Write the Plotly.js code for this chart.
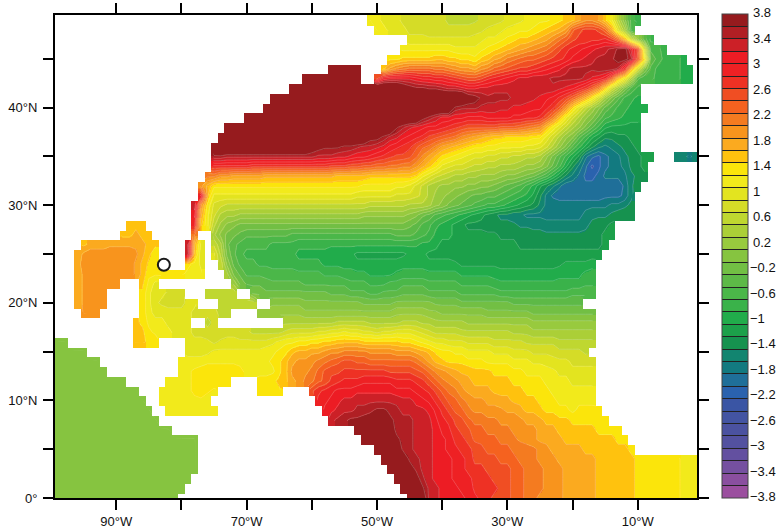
<!DOCTYPE html>
<html><head><meta charset="utf-8">
<script src="https://cdn.plot.ly/plotly-3.0.1.min.js"></script>
<style>html,body{margin:0;padding:0;background:#fff}#c{width:780px;height:531px}</style></head>
<body><div id="c"></div>
<script>
// values in tenths, each row: start longitude, values eastward (one per degree), repeated per segment
const lat49=[-51,[11,10,9,8,8,7,7,7,6,6,6,6,5,5,5,5,5,6,6,7,7,8,9,9,10,10,11,11,12,13,14,15,17,19,19,17,14,10,4,-2,-7,-10]];
const lat48=[-50,[11,10,9,8,8,7,7,7,6,6,6,6,6,6,6,7,7,8,8,9,10,10,11,11,12,13,14,15,16,18,23,25,26,26,25,22,16,8,2,-7]];
const lat47=[-45,[8,8,8,8,8,8,8,8,8,8,8,9,10,10,11,12,13,14,14,15,16,17,19,21,23,25,26,26,27,27,28,26,22,15,7,0,-5,-9]];
const lat46=[-46,[11,11,11,11,11,11,11,11,10,10,10,10,11,12,13,14,15,16,17,18,19,20,21,23,25,27,28,29,30,31,32,33,34,36,37,31,24,8,-7,-8,-9]];
const lat45=[-48,[13,13,14,14,14,14,14,15,15,14,14,13,13,12,14,15,17,18,20,21,22,23,23,24,25,26,27,28,30,31,32,33,34,34,35,37,37,34,22,12,-5,-7,-9,-10,-10,-11]];
const lat44=[-57,[42,42,42,42,42],-49,[15,18,20,21,22,22,22,22,21,21,20,19,18,18,17,19,20,22,23,24,25,26,26,27,28,29,30,31,33,34,34,34,34,35,35,35,33,26,15,6,-2,-7,-9,-10,-10,-10,-11,-11]];
const lat43=[-61,[42,42,42,42,42,42,42,42,42],-50,[25,30,31,31,31,31,30,29,29,28,28,27,26,25,24,24,25,27,28,29,30,31,32,32,33,33,33,34,34,34,34,34,33,31,30,28,22,15,10,3,-6,-8,-8,-9,-10,-10,-10,-11,-11]];
const lat42=[-63,[42,42,42,42,42,42,42,42,42,42,42,42,42,42,42,42,42,39,37,36,36,35,35,34,33,33,32,31,31,32,32,33,33,33,33,33,33,33,33,33,33,32,31,30,28,26,23,19,13,6,2,-3,-7,-9]];
const lat41=[-66,[42,42,42,42,42,42,42,42,42,42,42,42,42,42,42,42,42,42,42,42,42,42,42,42,42,42,42,42,42,42,38,37,35,34,34,34,34,33,33,32,32,31,30,29,27,25,22,19,15,11,6,1,-3,-6,-9,-10,-11]];
const lat40=[-67,[42,42,42,42,42,42,42,42,42,42,42,42,42,42,42,42,42,42,42,42,42,42,42,42,42,42,42,42,42,35,34,34,34,33,33,33,32,32,31,31,31,30,30,28,26,23,18,12,8,4,1,-2,-5,-7,-9,-10,-11,-12,-12]];
const lat39=[-70,[42,42,42,42,42,42,42,42,42,42,42,42,42,42,42,42,42,42,42,42,42,42,42,42,42,42,42,37,35,33,31,31,30,30,29,29,29,30,30,30,30,29,29,28,28,27,24,20,15,10,6,3,0,-2,-5,-8,-9,-10,-11,-12,-12]];
const lat38=[-73,[42,42,42,42,42,42,42,42,42,42,42,42,42,42,42,42,42,42,42,42,42,42,42,42,42,42,36,34,32,31,30,29,29,28,27,26,25,24,24,24,24,24,23,23,23,22,21,20,19,15,11,8,5,2,0,-3,-6,-9,-12,-13,-13,-13,-13,-13]];
const lat37=[-74,[42,42,42,42,42,42,42,42,42,42,42,42,42,42,42,42,42,42,42,42,42,42,42,37,37,35,33,32,30,29,28,27,25,24,23,22,21,19,18,17,16,15,14,14,13,13,13,13,12,12,9,6,3,0,-2,-6,-9,-12,-14,-16,-16,-15,-15,-14,-14]];
const lat36=[-75,[40,42,42,42,42,42,42,42,42,42,42,42,42,42,42,38,37,36,36,36,35,35,34,33,33,32,31,29,28,27,26,24,22,21,19,17,16,15,14,13,12,12,11,11,10,10,10,10,9,9,8,6,3,0,-3,-7,-10,-13,-16,-18,-19,-18,-17,-16,-15,-14]];
const lat35=[-75,[35,35,34,34,34,34,34,34,34,34,34,34,34,34,34,34,33,33,33,32,32,31,30,30,29,28,27,26,25,25,24,22,19,17,15,13,12,11,10,9,8,8,7,7,6,6,5,5,4,4,3,0,-3,-6,-9,-12,-15,-20,-22,-23,-21,-20,-19,-17,-16,-15,-14,-14],-4,[-18,-18,-19,-17]];
const lat34=[-75,[27,27,27,27,27,27,26,26,26,26,26,26,26,26,26,26,26,26,25,25,25,24,24,23,23,22,22,21,21,20,20,18,16,14,12,9,8,7,7,6,5,5,4,4,3,3,3,2,1,1,0,-2,-5,-8,-12,-16,-19,-22,-25,-23,-21,-20,-19,-18,-16,-15,-14]];
const lat33=[-76,[20,20,18,18,17,17,17,17,17,16,16,16,16,16,16,16,16,16,16,16,15,15,15,15,15,14,14,14,14,14,14,14,13,10,8,6,5,4,3,3,2,2,1,1,1,0,-1,-1,-2,-3,-4,-6,-8,-11,-14,-17,-19,-21,-23,-23,-22,-20,-20,-20,-19,-17,-16,-15]];
const lat32=[-77,[18,15,12,12,12,12,12,12,12,12,12,12,12,12,12,12,12,12,12,12,12,12,12,12,12,11,11,11,11,11,10,10,9,7,5,3,2,1,1,0,0,-1,-1,-2,-2,-3,-4,-5,-6,-7,-9,-11,-14,-16,-18,-20,-22,-22,-22,-22,-22,-22,-22,-22,-22,-20,-17,-15]];
const lat31=[-77,[30,14,9,9,9,9,9,9,9,9,9,9,9,9,9,9,9,9,9,9,9,9,9,9,8,8,8,8,8,8,7,7,7,6,5,3,1,0,-1,-2,-3,-4,-5,-5,-6,-6,-7,-8,-9,-10,-11,-13,-16,-19,-21,-22,-22,-22,-22,-22,-22,-22,-21,-21,-21,-20,-17]];
const lat30=[-78,[33,18,11,7,6,5,5,5,5,5,5,5,5,5,5,5,5,5,5,5,5,5,5,5,5,5,5,4,4,4,4,4,4,3,3,3,2,0,-1,-3,-4,-5,-6,-7,-8,-9,-9,-10,-11,-12,-13,-14,-15,-17,-19,-19,-19,-19,-19,-19,-19,-19,-19,-19,-18,-18,-17,-16]];
const lat29=[-78,[30,16,10,6,3,2,2,1,1,1,1,1,1,1,1,1,1,1,1,1,1,1,1,1,1,1,0,0,0,0,0,0,0,-1,-2,-4,-5,-7,-8,-9,-10,-11,-12,-13,-14,-15,-16,-17,-17,-18,-18,-19,-19,-19,-19,-19,-19,-19,-19,-19,-18,-17,-17,-17,-16,-15,-15,-15]];
const lat28=[-88,[15,15,15],-78,[28,14,10,4,1,-1,-2,-3,-3,-3,-3,-3,-3,-3,-3,-3,-3,-3,-3,-3,-3,-3,-3,-3,-3,-3,-3,-3,-3,-3,-3,-3,-3,-4,-5,-7,-8,-10,-11,-12,-13,-14,-15,-15,-15,-16,-16,-16,-16,-16,-17,-17,-17,-17,-18,-18,-18,-18,-18,-18,-17,-16,-15,-15,-14]];
const lat27=[-89,[15,15,16,15,15],-78,[20],-75,[2,-1,-3,-4,-5,-6,-6,-6,-6,-6,-6,-6,-7,-7,-7,-7,-7,-7,-7,-7,-7,-7,-7,-7,-7,-7,-7,-7,-6,-6,-6,-7,-8,-9,-11,-12,-12,-13,-14,-14,-14,-14,-14,-14,-15,-15,-15,-15,-15,-16,-16,-16,-16,-16,-16,-16,-16,-16,-16,-15,-14,-14]];
const lat26=[-95,[15,16,16,16,17,17,17,17,17,16,15,14],-79,[32,16,9],-75,[5,2,-4,-6,-7,-8,-8,-8,-8,-9,-9,-9,-9,-10,-10,-10,-10,-10,-10,-10,-10,-10,-10,-10,-10,-10,-10,-10,-10,-10,-10,-10,-11,-11,-12,-13,-13,-13,-14,-14,-14,-14,-14,-14,-14,-14,-14,-15,-15,-15,-15,-15,-15,-15,-15,-15,-15,-15,-15,-15,-14]];
const lat25=[-96,[16,18,19,19,19,19,19,19,19,18,16,14,12],-79,[33,15,8],-75,[8,3,-3,-6,-8,-9,-9,-9,-9,-10,-10,-10,-10,-11,-11,-11,-11,-11,-12,-12,-12,-12,-13,-13,-13,-13,-13,-13,-13,-13,-12,-12,-12,-13,-13,-13,-13,-14,-14,-14,-14,-14,-14,-14,-14,-13,-13,-14,-14,-14,-14,-14,-14,-14,-14,-14,-14,-14,-14,-14]];
const lat24=[-96,[16,19,19,19,19,19,19,19,19,17,15,13,12],-79,[12,11,9],-74,[5,-1,-5,-7,-8,-8,-9,-9,-9,-9,-9,-9,-10,-10,-10,-10,-11,-11,-11,-11,-11,-12,-12,-12,-12,-12,-12,-12,-11,-11,-11,-11,-12,-12,-12,-12,-12,-13,-13,-13,-13,-13,-13,-13,-13,-13,-13,-13,-13,-13,-13,-13,-13,-12,-12,-12,-12,-11]];
const lat23=[-96,[16,18,19,19,19,19,19,19,19,17,15,12,12,12,12,12,12,11,11,10],-73,[2,-3,-5,-7,-7,-7,-7,-8,-8,-8,-8,-8,-8,-8,-8,-9,-9,-9,-10,-10,-10,-10,-11,-11,-11,-11,-10,-10,-10,-10,-10,-10,-10,-10,-10,-10,-11,-11,-11,-11,-11,-11,-12,-12,-12,-12,-12,-12,-12,-12,-12,-11,-11,-11,-11,-10,-10]];
const lat22=[-96,[16,18,19,19,19,19,19],-86,[14,11,9],-72,[1,-3,-5,-5,-5,-6,-6,-6,-6,-6,-6,-7,-7,-7,-7,-7,-7,-7,-8,-8,-8,-9,-9,-9,-8,-8,-7,-7,-7,-7,-8,-8,-8,-8,-8,-9,-9,-9,-9,-9,-10,-10,-10,-10,-10,-10,-10,-10,-10,-10,-10,-10,-10,-10,-9,-9]];
const lat21=[-96,[16,18,19,19,19],-86,[13,10,8,8,7,7,7],-76,[5,5,5,5,5],-69,[-3,-3,-4,-4,-4,-4,-4,-4,-4,-4,-4,-4,-5,-5,-5,-6,-6,-6,-7,-7,-6,-6,-6,-5,-5,-5,-5,-6,-6,-6,-6,-6,-7,-7,-7,-7,-7,-7,-8,-8,-8,-8,-8,-8,-8,-8,-8,-8,-8,-7,-7,-7,-7]];
const lat20=[-96,[16,18,19,19,19],-86,[13,10,8,7,7,7,7,8,8],-74,[5,5,5,5,5,5],-66,[-1,-1,-1,-1,-1,-2,-2,-2,-2,-2,-2,-2,-2,-2,-3,-3,-3,-3,-3,-2,-2,-2,-2,-2,-2,-3,-3,-3,-3,-4,-4,-4,-4,-4,-4,-4,-4,-5,-5,-5,-5,-5,-5,-5,-5,-5,-5,-5]];
const lat19=[-95,[18,19,19],-86,[13,10,9,9,8,8,8,8,7,6,6,6,5,5],-68,[0,0,1,1,1,1,1,0,0,0,0,0,0,0,0,0,0,0,0,0,0,1,1,1,1,1,0,0,-1,-1,-1,-1,-1,-1,-1,-2,-2,-2,-2,-2,-2,-2,-3,-3,-3,-3,-3,-3,-3,-3,-3,-3]];
const lat18=[-87,[14,13,11,10,10,9,9,9,8],-76,[5,6],-64,[3,3,3,3,3,3,3,3,4,4,4,4,4,3,3,3,3,3,4,4,4,3,3,2,2,2,2,2,1,1,1,1,1,1,1,1,1,1,0,0,0,0,0,0,0,0,0,0]];
const lat17=[-87,[14,14,12,11,10,10,9,9,8,7,7,6,6,6,7,7,6,6,5,5,5,5,5,6,7,7,7,7,8,8,9,9,10,9,9,8,8,7,8,8,9,9,9,8,7,6,5,5,5,5,4,4,4,4,4,4,4,4,3,3,3,2,2,2,2,2,2,2,2,2,2]];
const lat16=[-99,[-1,-1],-87,[14,14,13,13],-79,[8,8,8,8,7,8,8,8,8,8,8,8,8,9,10,11,11,12,12,13,13,14,14,15,15,15,15,14,14,14,14,14,14,13,13,12,11,10,9,9,8,8,8,7,7,7,7,6,6,6,6,6,5,5,5,5,5,4,4,4,4,4,4]];
const lat15=[-99,[-1,-1,-1,-1,-1],-79,[9,9,9,9,10,10,10,10,10,10,10,10,11,11,12,13,15,16,16,17,17,18,19,19,20,20,20,20,19,19,19,19,18,18,18,17,16,15,13,12,12,11,11,10,10,10,10,9,9,9,8,8,8,7,7,7,7,6,6,6,6,5]];
const lat14=[-99,[-1,-1,-1,-1,-1,-1,-1],-80,[10,10,10,10,11,11,11,11,11,11,11,11,11,11,12,13,15,17,18,18,19,20,21,22,23,24,24,23,23,22,22,22,22,22,22,22,21,19,17,15,14,13,13,13,12,12,12,11,11,11,11,10,10,10,9,9,9,8,8,8,7,7,7,7]];
const lat13=[-99,[-1,-1,-1,-1,-1,-1,-1,-1],-80,[11,11,12,13,13,13,13,13,13,12,11,11,11,11,11,13,15,18,18,19,20,22,24,25,25,26,26,26,26,26,26,26,25,25,25,25,24,23,21,19,18,17,16,15,15,14,14,14,13,13,13,12,12,11,11,11,10,10,9,9,8,8,8,8]];
const lat12=[-99,[-1,-1,-1,-1,-1,-1,-1,-1,-1,-1,-1],-82,[11,11,11,11,12,13,13,13,13,12],-68,[12,12,13,14,15,17,18,20,21,23,24,26,27,28,28,28,29,29,29,29,29,28,28,28,27,26,24,22,20,19,18,17,16,15,15,15,14,14,14,13,13,12,12,12,11,10,10,10,9,9,9,9]];
const lat11=[-99,[-1,-1,-1,-1,-1,-1,-1,-1,-1,-1,-1,-1,-1],-83,[11,11,11,11,11,12,13,12,11],-68,[12,13,13,13],-60,[25,27,28,29,30,30,30,31,31,31,31,31,31,30,30,30,29,28,27,25,23,21,20,18,17,16,16,16,15,15,15,14,14,13,13,12,12,11,11,10,10,10,10,10]];
const lat10=[-99,[-1,-1,-1,-1,-1,-1,-1,-1,-1,-1,-1,-1,-1,-1],-83,[11,11,11,11,11,11,11,10],-59,[28,29,30,31,32,32,33,33,33,33,33,33,33,32,32,31,30,29,27,25,23,22,20,19,18,18,17,17,16,16,15,15,14,14,13,12,12,11,11,10,11,11,11]];
const lat9=[-99,[-1,-1,-1,-1,-1,-1,-1,-1,-1,-1,-1,-1,-1,-1,-1],-82,[11,11,11,11,11,11,10,10],-58,[30,31,32,33,33,34,34,35,36,36,35,34,33,33,32,32,31,29,27,25,23,22,20,19,19,18,18,18,17,17,16,15,15,14,13,13,12,12,11,12,12,12,12]];
const lat8=[-99,[-1,-1,-1,-1,-1,-1,-1,-1,-1,-1,-1,-1,-1,-1,-1,-1],-57,[33,34,35,36,36,37,37,38,37,36,35,34,34,33,33,32,30,28,27,25,24,22,21,21,20,20,19,19,19,18,17,17,16,15,15,14,14,13,13,13,13,13,13]];
const lat7=[-99,[-1,-1,-1,-1,-1,-1,-1,-1,-1,-1,-1,-1,-1,-1,-1,-1,-1,-1],-53,[38,39,40,40,39,37,35,34,34,33,33,32,31,29,28,26,25,24,22,22,21,21,20,20,19,19,18,18,17,16,16,15,15,14,14,14,14,13,13,13,13]];
const lat6=[-99,[-1,-1,-1,-1,-1,-1,-1,-1,-1,-1,-1,-1,-1,-1,-1,-1,-1,-1,-1,-1,-1,-1],-52,[40,41,42,41,38,36,35,34,33,33,32,31,30,29,27,26,25,23,23,22,22,21,21,20,19,19,18,17,17,16,16,15,15,15,14,14,14,14,14,13,13]];
const lat5=[-99,[-1,-1,-1,-1,-1,-1,-1,-1,-1,-1,-1,-1,-1,-1,-1,-1,-1,-1,-1,-1,-1,-1],-50,[42,41,40,38,35,34,33,33,32,31,30,29,28,27,26,25,24,23,23,22,22,21,21,20,20,19,18,17,17,16,16,16,15,15,15,15,14,14,14,13]];
const lat4=[-99,[-1,-1,-1,-1,-1,-1,-1,-1,-1,-1,-1,-1,-1,-1,-1,-1,-1,-1,-1,-1,-1,-1],-49,[42,41,40,38,35,34,33,32,31,30,30,29,28,27,25,25,24,24,23,23,22,21,21,20,19,18,18,17,17,17,16,16,16,15,15,15,14,14,14,13,13,13,13,13,12,12,11,11,11]];
const lat3=[-99,[-1,-1,-1,-1,-1,-1,-1,-1,-1,-1,-1,-1,-1,-1,-1,-1,-1,-1,-1,-1,-1,-1],-48,[42,41,40,37,35,33,32,31,30,30,29,28,27,26,26,25,25,24,24,23,22,21,21,20,19,18,18,17,17,16,16,16,15,15,15,14,14,14,13,13,13,13,13,12,12,11,11,11]];
const lat2=[-99,[-1,-1,-1,-1,-1,-1,-1,-1,-1,-1,-1,-1,-1,-1,-1,-1,-1,-1,-1,-1,-1],-47,[42,41,39,37,34,32,31,30,30,29,29,28,27,26,26,25,25,24,23,22,21,20,20,19,18,18,17,17,16,16,16,15,15,15,14,14,14,13,13,13,13,13,12,12,11,11,11]];
const lat1=[-99,[-1,-1,-1,-1,-1,-1,-1,-1,-1,-1,-1,-1,-1,-1,-1,-1,-1,-1,-1,-1],-46,[42,41,38,36,33,32,31,31,30,29,29,27,27,26,26,25,24,23,22,21,20,20,19,18,18,17,17,16,16,16,15,15,15,14,14,14,13,13,13,13,13,12,12,11,11,11]];
const lat0=[-99,[-1,-1,-1,-1,-1,-1,-1,-1,-1,-1,-1,-1,-1,-1,-1,-1,-1,-1,-1],-45,[42,41,38,33,32,31,31,30,30,29,28,27,26,25,25,24,23,22,21,20,19,19,18,18,17,17,16,16,16,15,15,15,14,14,14,13,13,13,13,13,12,12,11,11,11]];
const allRows=[lat0,lat1,lat2,lat3,lat4,lat5,lat6,lat7,lat8,lat9,lat10,lat11,lat12,lat13,lat14,lat15,lat16,lat17,lat18,lat19,lat20,lat21,lat22,lat23,lat24,lat25,lat26,lat27,lat28,lat29,lat30,lat31,lat32,lat33,lat34,lat35,lat36,lat37,lat38,lat39,lat40,lat41,lat42,lat43,lat44,lat45,lat46,lat47,lat48,lat49];
const lons=[],lats=[];
for(let i=-99;i<=-1;i++)lons.push(i);
for(let j=0;j<=49;j++)lats.push(j);
const z=allRows.map(spec=>{
  const r=lons.map(()=>null);
  for(let s=0;s<spec.length;s+=2){spec[s+1].forEach((v,k)=>{const idx=spec[s]+k+99;if(idx>=0&&idx<r.length)r[idx]=(v+1.5)/10;});}
  return r;
});
const binColors=['#9B4F9F','#8A4F9F','#7550A0','#6350A0','#5351A0','#4B52A0','#4354A2','#3A55A4','#2A62AE','#1F6F99','#127A80','#128570','#16924F','#1CA04A','#21AC4B','#3AB24A','#4BB749','#5DB947','#72BF44','#86C440','#98CA3E','#ABCF37','#BFD730','#D5DC27','#E3E41F','#F2EA1B','#FBE50B','#FFC20E','#FBAA1F','#F8941D','#F47B20','#F5621F','#F04E23','#EE3124','#EE2124','#ED1C24','#CC2027','#B01F24','#961B1E'];
const scale=[];
binColors.forEach((c,i)=>{scale.push([i/39,c],[(i+1)/39,c]);});
const dividers=[];
for(let i=1;i<39;i++)dividers.push(Number((-3.9+i*0.2).toFixed(1)));
const barLabels=['3.8','3.4','3','2.6','2.2','1.8','1.4','1','0.6','0.2','−0.2','−0.6','−1','−1.4','−1.8','−2.2','−2.6','−3','−3.4','−3.8'];
const xTicks=[-90,-80,-70,-60,-50,-40,-30,-20,-10];
const xLabels=['90°W','','70°W','','50°W','','30°W','','10°W'];
const yTicks=[0,5,10,15,20,25,30,35,40,45];
const yLabels=['0°','','10°N','','20°N','','30°N','','40°N',''];
const siteLon=[-82.7],siteLat=[23.9];
const fnt={family:'Liberation Sans, Arial, sans-serif',size:13,color:'#111'};
const traces=[
 {type:'heatmap',x:lons,y:lats,z:z,zmin:-3.9,zmax:3.9,zsmooth:'best',colorscale:scale,hoverinfo:'skip',
  colorbar:{x:(722-55)/642,xanchor:'left',xpad:0,y:0,yanchor:'bottom',ypad:0,len:1.002,thickness:26,
   tickmode:'array',tickvals:dividers,ticks:'inside',ticklen:26,tickwidth:1,tickcolor:'#222',showticklabels:false,
   outlinewidth:1,outlinecolor:'#444'}},
 {type:'contour',x:lons,y:lats,z:z,autocontour:false,contours:{coloring:'none',start:-3.7,end:3.7,size:0.2},
  line:{color:'rgba(255,255,255,0.3)',width:0.7,smoothing:0},showscale:false,hoverinfo:'skip'},
 {type:'scatter',mode:'markers',x:siteLon,y:siteLat,marker:{symbol:'circle-open',size:12,color:'#1a1a1a',line:{width:2,color:'#1a1a1a'}},hoverinfo:'skip',showlegend:false}
];
const barAnn=barLabels.map((t,k)=>({xref:'paper',yref:'paper',xanchor:'left',yanchor:'middle',showarrow:false,
  x:((t[0]==='−'?750:753)-55)/642,y:(498-(13+483.7*k/19))/483,text:t,font:fnt,align:'left',borderpad:0,borderwidth:0}));
const layout={width:780,height:531,margin:{l:55,r:83,t:15,b:33,pad:0,autoexpand:false},paper_bgcolor:'#fff',plot_bgcolor:'#fff',showlegend:false,font:fnt,annotations:barAnn,
 xaxis:{range:[-99.4,-0.9],tickmode:'array',tickvals:xTicks,ticktext:xLabels,ticks:'outside',ticklen:10,tickwidth:2,tickcolor:'#000',showline:true,linewidth:2,linecolor:'#000',mirror:'allticks',showgrid:false,zeroline:false,tickfont:fnt},
 yaxis:{range:[0,49.5],tickmode:'array',tickvals:yTicks,ticktext:yLabels,ticks:'outside',ticklen:10,tickwidth:2,tickcolor:'#000',showline:true,linewidth:2,linecolor:'#000',mirror:'allticks',showgrid:false,zeroline:false,tickfont:fnt,ticklabelstandoff:3}};
Plotly.newPlot('c',traces,layout,{displayModeBar:false,staticPlot:true});
</script></body></html>
